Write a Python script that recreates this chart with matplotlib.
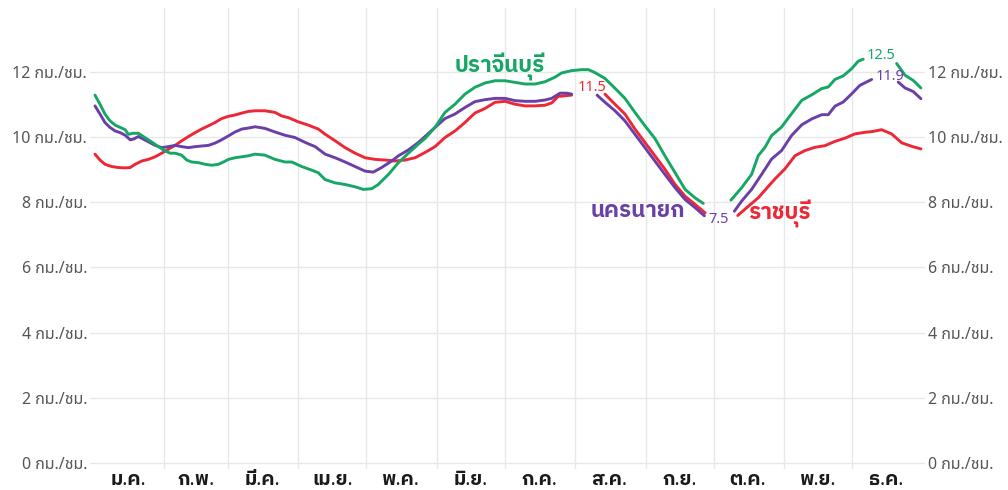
import numpy as np
import matplotlib
matplotlib.use("Agg")
import matplotlib.pyplot as plt

# Thai needs its own family, latin digits come from Noto Sans
plt.rcParams['font.family'] = ['Noto Sans', 'Noto Sans Thai']
bold_thai = ['Noto Sans', 'IBM Plex Sans Thai']

nan = np.nan

# day of year (0 = 1 Jan) and wind speed in km/h, nan = gap for the labels
green_day = [0.4, 2.6, 4.8, 7.0, 9.3, 11.5, 13.7, 15.1, 17.3, 19.5, 21.7, 23.9, 26.1, 28.3,
             31.3, 33.5, 35.7, 38.6, 40.8, 43.0, 46.0, 48.9, 51.8, 54.8, 57.0, 59.2, 62.1,
             65.1, 68.0, 70.9, 75.3, 79.7, 84.1, 87.1, 91.5, 95.9, 98.8, 101.8, 106.2, 110.6,
             115.0, 118.6, 122.3, 125.2, 129.7, 134.1, 138.5, 142.9, 145.8, 150.2, 154.6,
             159.0, 163.4, 167.8, 172.2, 176.7, 181.1, 185.5, 189.9, 194.3, 198.7, 203.1,
             206.0, 210.4, 214.8, 217.8, 220.7, 225.1, 229.5, 233.9, 238.3, 242.7, 247.1,
             251.5, 256.0, 260.4, 264.8, 268.4, 274.0, 280.6, 285.3, 289.7, 292.6, 295.6,
             298.5, 302.9, 307.3, 311.8, 316.2, 320.6, 323.5, 326.4, 330.1, 333.8, 336.7,
             338.9, 346.0, 353.6, 357.3, 360.9, 364.3]
green_val = [11.28, 11.00, 10.70, 10.49, 10.36, 10.29, 10.22, 10.08, 10.11, 10.11, 10.01, 9.91,
             9.81, 9.70, 9.57, 9.50, 9.50, 9.44, 9.29, 9.23, 9.21, 9.16, 9.13, 9.16, 9.23, 9.31,
             9.36, 9.39, 9.42, 9.47, 9.44, 9.31, 9.23, 9.23, 9.09, 8.98, 8.90, 8.69, 8.59, 8.54,
             8.47, 8.39, 8.41, 8.54, 8.85, 9.21, 9.50, 9.78, 9.95, 10.29, 10.75, 11.00, 11.31,
             11.52, 11.65, 11.72, 11.72, 11.67, 11.62, 11.62, 11.69, 11.83, 11.96, 12.03, 12.06,
             12.06, 11.97, 11.79, 11.49, 11.18, 10.75, 10.34, 9.95, 9.42, 8.90, 8.39, 8.13, 7.96,
             nan, 8.06, 8.44, 8.85, 9.42, 9.68, 10.04, 10.30, 10.71, 11.12, 11.29, 11.48, 11.53,
             11.76, 11.87, 12.09, 12.32, 12.38, nan, 12.25, 11.89, 11.73, 11.50]

purple_day = [0.4, 2.6, 4.8, 7.0, 9.3, 11.5, 13.7, 15.9, 17.3, 19.5, 21.7, 23.9, 26.9, 29.8,
              32.7, 35.7, 38.6, 41.6, 44.5, 47.4, 50.4, 53.3, 56.2, 59.2, 62.1, 65.1, 68.0,
              70.9, 75.3, 79.7, 84.1, 88.5, 93.0, 97.4, 101.8, 106.2, 110.6, 115.0, 119.4,
              123.0, 126.7, 131.1, 134.1, 138.5, 142.9, 145.8, 148.0, 150.2, 154.6, 159.0,
              163.4, 167.8, 172.2, 176.7, 181.1, 185.5, 189.9, 194.3, 198.7, 201.6, 205.3,
              208.2, 210.4, 216.0, 221.6, 225.1, 229.5, 233.9, 238.3, 242.7, 247.1, 251.5,
              256.0, 260.4, 264.8, 268.9, 275.0, 282.1, 285.3, 289.7, 294.1, 298.5, 302.9,
              307.3, 311.8, 316.2, 320.6, 323.5, 326.4, 330.1, 333.8, 337.4, 342.6, 348.0,
              354.3, 357.3, 360.9, 364.3]
purple_val = [10.95, 10.70, 10.44, 10.29, 10.18, 10.13, 10.05, 9.91, 9.93, 10.01, 9.93, 9.85,
              9.74, 9.67, 9.70, 9.74, 9.70, 9.67, 9.70, 9.72, 9.74, 9.81, 9.91, 10.03, 10.15,
              10.24, 10.27, 10.31, 10.26, 10.15, 10.05, 9.98, 9.83, 9.70, 9.47, 9.36, 9.23, 9.09,
              8.95, 8.92, 9.06, 9.26, 9.42, 9.60, 9.83, 10.01, 10.15, 10.29, 10.56, 10.70, 10.90,
              11.08, 11.14, 11.18, 11.18, 11.11, 11.09, 11.09, 11.13, 11.18, 11.34, 11.34, 11.31,
              nan, 11.28, 11.06, 10.80, 10.49, 10.08, 9.67, 9.26, 8.85, 8.44, 8.08, 7.83, 7.58,
              nan, 7.72, 8.03, 8.39, 8.85, 9.32, 9.58, 10.04, 10.37, 10.55, 10.68, 10.68, 10.94,
              11.07, 11.32, 11.58, 11.76, nan, 11.68, 11.50, 11.39, 11.17]

red_day = [0.4, 2.6, 4.8, 7.8, 10.7, 13.7, 15.9, 18.1, 21.0, 23.9, 26.9, 29.8, 32.7, 35.7,
           38.6, 41.6, 44.5, 47.4, 50.4, 53.3, 56.2, 59.2, 62.1, 65.1, 68.0, 70.9, 75.3, 79.7,
           82.7, 85.6, 90.0, 94.4, 98.8, 101.8, 106.2, 110.6, 115.0, 119.4, 123.8, 128.2,
           132.6, 137.0, 141.4, 145.8, 150.2, 154.6, 159.0, 163.4, 167.8, 172.2, 176.7, 181.1,
           185.5, 189.9, 194.3, 198.7, 201.6, 204.5, 207.5, 210.4, 218.0, 225.1, 229.5, 233.9,
           238.3, 242.7, 247.1, 251.5, 256.0, 260.4, 264.8, 269.2, 276.0, 283.6, 288.2, 292.6,
           297.8, 300.0, 304.4, 308.8, 313.2, 317.6, 322.0, 326.4, 330.8, 335.2, 339.6, 342.6,
           347.0, 351.4, 355.8, 360.2, 364.3]
red_val = [9.47, 9.29, 9.16, 9.09, 9.06, 9.05, 9.06, 9.16, 9.26, 9.31, 9.39, 9.50, 9.62, 9.74,
           9.88, 10.01, 10.13, 10.24, 10.34, 10.44, 10.56, 10.63, 10.67, 10.73, 10.78, 10.80,
           10.80, 10.75, 10.64, 10.59, 10.46, 10.36, 10.24, 10.08, 9.88, 9.67, 9.50, 9.36, 9.31,
           9.29, 9.26, 9.29, 9.36, 9.52, 9.70, 9.98, 10.18, 10.44, 10.73, 10.87, 11.06, 11.09,
           11.00, 10.95, 10.95, 10.97, 11.04, 11.24, 11.26, 11.28, nan, 11.31, 11.00, 10.70,
           10.24, 9.83, 9.42, 9.01, 8.54, 8.18, 7.93, 7.67, nan, 7.59, 7.87, 8.13, 8.54, 8.71,
           9.02, 9.42, 9.58, 9.68, 9.73, 9.86, 9.96, 10.09, 10.14, 10.16, 10.22, 10.09, 9.82,
           9.71, 9.63]

month_start = [31, 59, 90, 120, 151, 181, 212, 243, 273, 304, 334]
month_mid = [15, 45, 74, 105, 135, 166, 196, 227, 258, 288, 319, 349]
month_names = ['ม.ค.', 'ก.พ.', 'มี.ค.', 'เม.ย.', 'พ.ค.', 'มิ.ย.',
               'ก.ค.', 'ส.ค.', 'ก.ย.', 'ต.ค.', 'พ.ย.', 'ธ.ค.']
y_ticks = [0, 2, 4, 6, 8, 10, 12]

green = '#16a765'
purple = '#6a40a8'
red = '#ee2737'
grid_c = '#e8e8e8'

fig = plt.figure(figsize=(10.08, 4.9), dpi=100)
ax = fig.add_axes([90 / 1008, 21 / 490, 835 / 1008, 461 / 490])

for x in month_start:
    ax.axvline(x, color=grid_c, lw=1.0, zorder=0)
for y in y_ticks:
    ax.axhline(y, color=grid_c, lw=1.0, zorder=0)

ax.plot(red_day, red_val, color=red, lw=2.1, solid_capstyle='round')
ax.plot(purple_day, purple_val, color=purple, lw=2.1, solid_capstyle='round')
ax.plot(green_day, green_val, color=green, lw=2.1, solid_capstyle='round')

ax.set_xlim(-1.8, 366.1)
ax.set_ylim(-0.18, 13.95)

ax.set_xticks(month_mid)
ax.set_xticklabels(month_names, fontsize=14, fontweight='bold', color='#1a1a1a',
                   family=bold_thai)
ax.set_yticks(y_ticks)
ax.set_yticklabels([f'{v} กม./ชม.' for v in y_ticks], fontsize=11.5, color='#555555')
ax.tick_params(axis='x', length=0, pad=1)
ax.tick_params(axis='y', length=0, pad=2, labelright=True, right=False)
for s in ax.spines.values():
    s.set_visible(False)

# series names
ax.text(178.9, 12.15, 'ปราจีนบุรี', color=green, fontsize=16, fontweight='bold',
        ha='center', va='center', family=bold_thai)
ax.text(260.5, 7.72, 'นครนายก', color=purple, fontsize=16, fontweight='bold',
        ha='right', va='center', family=bold_thai)
ax.text(288.0, 7.63, 'ราชบุรี', color=red, fontsize=16, fontweight='bold',
        ha='left', va='center', family=bold_thai)

# values at the gaps
ax.text(213.2, 11.5, '11.5', color=red, fontsize=10.5, ha='left', va='center')
ax.text(275.3, 7.48, '7.5', color=purple, fontsize=10.5, ha='center', va='center')
ax.text(346.7, 12.49, '12.5', color=green, fontsize=10.5, ha='center', va='center')
ax.text(350.7, 11.85, '11.9', color=purple, fontsize=10.5, ha='center', va='center')

fig.savefig('out.png', dpi=100)
